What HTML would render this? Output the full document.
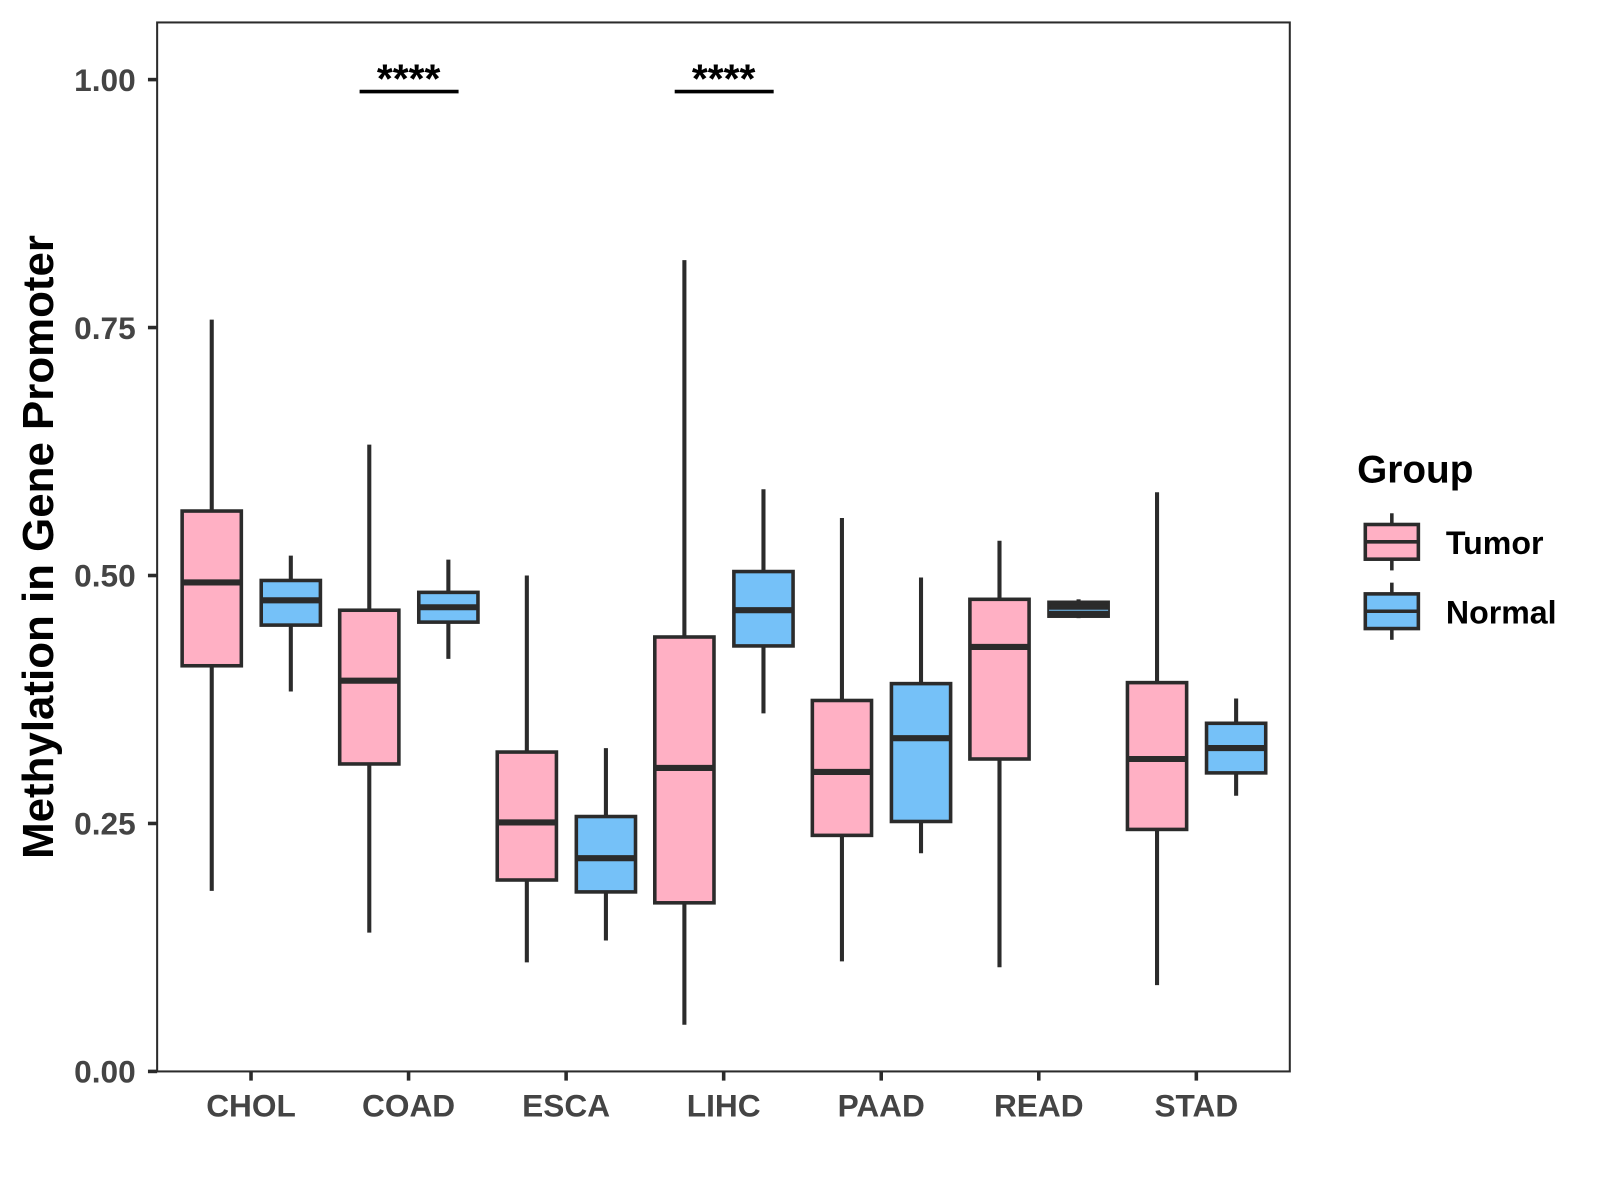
<!DOCTYPE html>
<html><head><meta charset="utf-8"><style>html,body{margin:0;padding:0;background:#fff}svg{display:block}text{font-family:"Liberation Sans",Arial,sans-serif;font-weight:bold}</style></head>
<body>
<svg id="chart" width="1600" height="1200" viewBox="0 0 1568 1176" xmlns="http://www.w3.org/2000/svg">
<rect width="1568" height="1176" fill="#fff"/>
<g id="plot"></g>
<rect x="154" y="22" width="1110" height="1028" fill="none" stroke="#2b2b2b" stroke-width="2"/>
<text transform="translate(52,536) rotate(-90)" text-anchor="middle" font-size="43" fill="#000">Methylation in Gene Promoter</text>
<g>
<text x="1330" y="473" font-size="38" fill="#000">Group</text>
<g>
<line x1="1364" y1="503" x2="1364" y2="559" stroke="#2b2b2b" stroke-width="3.5"/>
<rect x="1338" y="514" width="52" height="34" fill="#FFB0C4" stroke="#2b2b2b" stroke-width="3.5"/>
<line x1="1338" y1="531" x2="1390" y2="531" stroke="#2b2b2b" stroke-width="3.5"/>
<text x="1417" y="543" font-size="31.5" fill="#000">Tumor</text></g>
<g>
<line x1="1364" y1="571" x2="1364" y2="627" stroke="#2b2b2b" stroke-width="3.5"/>
<rect x="1338" y="582" width="52" height="34" fill="#75C1F8" stroke="#2b2b2b" stroke-width="3.5"/>
<line x1="1338" y1="599" x2="1390" y2="599" stroke="#2b2b2b" stroke-width="3.5"/>
<text x="1417" y="611" font-size="31.5" fill="#000">Normal</text></g>
</g>
</svg>
<script>
const categories = ["CHOL","COAD","ESCA","LIHC","PAAD","READ","STAD"];
// [lower whisker, Q1, median, Q3, upper whisker]
const tumorStats = [
 [0.182,0.409,0.493,0.565,0.758],
 [0.140,0.310,0.394,0.465,0.632],
 [0.110,0.193,0.251,0.322,0.500],
 [0.047,0.170,0.306,0.438,0.818],
 [0.111,0.238,0.302,0.374,0.558],
 [0.105,0.315,0.428,0.476,0.535],
 [0.087,0.244,0.315,0.392,0.584]];
const normalStats = [
 [0.383,0.450,0.475,0.495,0.520],
 [0.416,0.453,0.468,0.483,0.516],
 [0.132,0.181,0.215,0.257,0.326],
 [0.361,0.429,0.465,0.504,0.587],
 [0.220,0.252,0.336,0.391,0.498],
 [0.457,0.459,0.465,0.473,0.476],
 [0.278,0.301,0.326,0.351,0.376]];
const yTicks = [0,0.25,0.5,0.75,1.0];
const yTickLabels = ["0.00","0.25","0.50","0.75","1.00"];
const sigCategories = ["COAD","LIHC"];
const sigLabels = ["****","****"];
const sigY = 0.99;

const NS="http://www.w3.org/2000/svg";
const g=document.getElementById('plot');
const yS=v=>1050-v*972;
const xS=i=>246+i*154.4;
function mk(t,a,p){const e=document.createElementNS(NS,t);for(const k in a)e.setAttribute(k,a[k]);(p||g).appendChild(e);return e;}
yTicks.forEach((v,i)=>{
 const tk=mk('line',{x1:145,x2:154,y1:yS(v),y2:yS(v),stroke:'#2b2b2b','stroke-width':3.5});
 
 
 const t=mk('text',{x:133,y:yS(v)+11,'text-anchor':'end','font-size':31,fill:'#444'});
 t.textContent=yTickLabels[i];
 
 
});
categories.forEach((c,i)=>{
 const x=xS(i);
 const tk=mk('line',{x1:x,x2:x,y1:1050,y2:1059,stroke:'#2b2b2b','stroke-width':3.5});
 
 
 const t=mk('text',{x:x,y:1094,'text-anchor':'middle','font-size':31,fill:'#444'});
 t.textContent=c;
 
 
 [[tumorStats[i],-38.5,'#FFB0C4','tumor'],[normalStats[i],39,'#75C1F8','normal']].forEach(([s,off,col,nm])=>{
  const cx=x+off,w=58;
  const bg=mk('g',{});
  
  
  mk('line',{x1:cx,x2:cx,y1:yS(s[0]),y2:yS(s[4]),stroke:'#2b2b2b','stroke-width':4},bg);
  const thin=(s[3]-s[1])<0.02;
  mk('rect',{x:cx-w/2,y:yS(s[3]),width:w,height:yS(s[1])-yS(s[3]),fill:thin?'#2b2b2b':col,stroke:'#2b2b2b','stroke-width':3.5},bg);
  mk('line',{x1:cx-w/2,x2:cx+w/2,y1:yS(s[2]),y2:yS(s[2]),stroke:thin?'#75C1F8':'#2b2b2b','stroke-width':thin?1:6},bg);
 });
});
sigCategories.forEach((c,k)=>{
 const x=xS(categories.indexOf(c));
 const l=mk('line',{x1:x-48,x2:x+49,y1:yS(sigY)+2,y2:yS(sigY)+2,stroke:'#000','stroke-width':3.5});
 
 
 const t=mk('text',{x:x,y:yS(sigY)+3,'text-anchor':'middle','font-size':40,fill:'#000'});
 t.textContent=sigLabels[k];
 
 
});
</script>
</body></html>
